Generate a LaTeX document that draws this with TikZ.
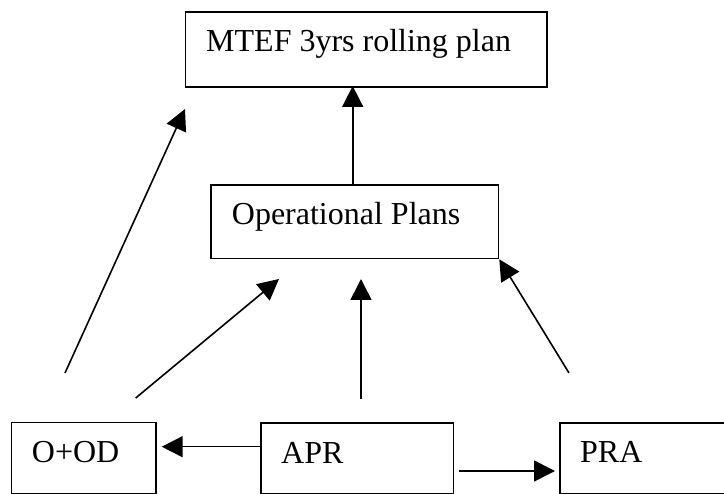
\documentclass[tikz,border=0pt]{standalone}
\usepackage{fontspec}
\setmainfont{Liberation Serif}
\usetikzlibrary{arrows.meta}
\begin{document}
\begin{tikzpicture}[x=1pt,y=-1pt,
  box/.style={draw=black, line width=1.6pt, rectangle, inner sep=0pt, anchor=north west},
  lbl/.style={anchor=base west, inner sep=0pt, font=\fontsize{32}{38}\selectfont},
  arr/.style={line width=1.6pt, -{Triangle[length=21pt,width=21pt]}}]
\useasboundingbox (0,0) rectangle (724,494);
\clip (0,0) rectangle (724,494);
% boxes
\node[box, minimum width=361.3pt, minimum height=75pt] (mtef) at (184.7,11) {};
\node[box, minimum width=287.7pt, minimum height=73.2pt] (op) at (210,184.5) {};
\node[box, minimum width=144.3pt, minimum height=71.3pt] (ood) at (10.7,421.7) {};
\node[box, minimum width=192.7pt, minimum height=71pt] (apr) at (260,422) {};
\node[box, minimum width=190pt, minimum height=71pt] (pra) at (559,422) {};
% labels
\node[lbl] (tmtef) at (206,52) {MTEF 3yrs rolling plan};
\node[lbl] (top) at (231.7,225) {Operational Plans};
\node[lbl] (tood) at (31.7,462.7) {O+OD};
\node[lbl] (tapr) at (281,463.3) {APR};
\node[lbl] (tpra) at (580,463) {PRA};
% free ends
\coordinate (a1s) at (65,373);
\coordinate (a1e) at (185,109);
\coordinate (a2s) at (135.7,398);
\coordinate (a2e) at (279,279);
\coordinate (a3s) at (361,399);
\coordinate (a3e) at (361,279);
\coordinate (a4s) at (569,373);
\coordinate (a4e) at (op.south east);
\coordinate (a5s) at (352.7,184.5);
\coordinate (a5e) at (352.7,86);
\coordinate (a6s) at (260,446.7);
\coordinate (a6e) at (161.7,446.7);
\coordinate (a7s) at (459,471);
\coordinate (a7e) at (555,471);
% connectors
\draw[arr] (a1s) -- (a1e);
\draw[arr] (a2s) -- (a2e);
\draw[arr] (a3s) -- (a3e);
\draw[arr] (a4s) -- (a4e);
\draw[arr] (a5s) -- (a5e);
\draw[arr] (a6s) -- (a6e);
\draw[arr] (a7s) -- (a7e);
\end{tikzpicture}
\end{document}
